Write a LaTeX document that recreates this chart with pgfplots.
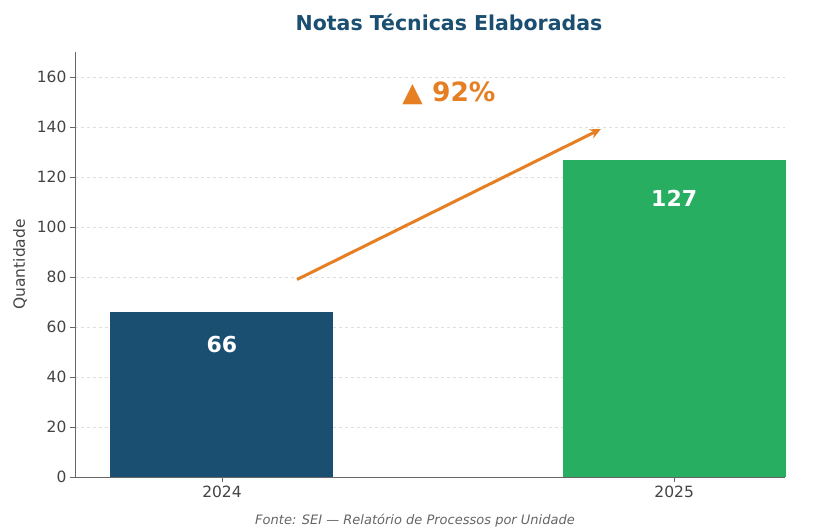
\documentclass[border=0pt]{standalone}
\usepackage{pgfplots}
\pgfplotsset{compat=1.18}
\usetikzlibrary{arrows.meta}
\usepackage{fontspec}
\setmainfont{DejaVu Sans}
\definecolor{bblue}{HTML}{1B4F72}
\definecolor{bgreen}{HTML}{27AE60}
\definecolor{borange}{HTML}{E67E22}
\definecolor{tgray}{HTML}{444444}
\definecolor{agray}{HTML}{666666}
\begin{document}
\begin{tikzpicture}
\path[use as bounding box, fill=white] (-75pt,-54pt) rectangle (739pt,477pt);
\begin{axis}[
  at={(0pt,0pt)}, anchor=south west,
  scale only axis, width=710pt, height=425pt,
  xmin=-0.325, xmax=1.245, ymin=0, ymax=170,
  xtick={0,1}, xticklabels={2024,2025},
  ytick={0,20,...,160},
  axis x line*=bottom, axis y line*=left,
  axis line style={agray, line width=0.8pt},
  every tick/.style={agray, line width=0.8pt},
  tick align=outside, major tick length=5pt,
  tick label style={font=\fontsize{15.5}{17}\selectfont, text=tgray},
  /pgf/number format/assume math mode=true,
  ymajorgrids, grid style={dashed, gray!25, line width=0.6pt},
  ylabel={Quantidade},
  every axis y label/.style={at={(rel axis cs:0,0.5)}, xshift=-55pt, rotate=90, anchor=center, font=\fontsize{15.5}{17}\selectfont, text=tgray},
  ybar, bar width=0.493, bar shift=0pt,
  clip=false,
]
\addplot[fill=bblue, draw=none] coordinates {(0,66)};
\addplot[fill=bgreen, draw=none] coordinates {(1,127)};
\node[text=white, font=\bfseries\fontsize{22}{24}\selectfont] at (axis cs:0,53) {66};
\node[text=white, font=\bfseries\fontsize{22}{24}\selectfont] at (axis cs:1,111.6) {127};
\draw[borange, line width=3pt, -{Stealth[length=11pt,width=10pt]}] (axis cs:0.166,79) -- (axis cs:0.838,139.2);
\node[text=borange, font=\bfseries\fontsize{26.5}{28}\selectfont] at (axis cs:0.502,153.6) {▲ 92\%};
\end{axis}
\node[text=bblue, font=\bfseries\fontsize{20.5}{23}\selectfont] at (374pt,455pt) {Notas Técnicas Elaboradas};
\node[text=agray, font=\itshape\fontsize{13}{15}\selectfont] at (340pt,-44pt) {Fonte: SEI — Relatório de Processos por Unidade};
\end{tikzpicture}
\end{document}
